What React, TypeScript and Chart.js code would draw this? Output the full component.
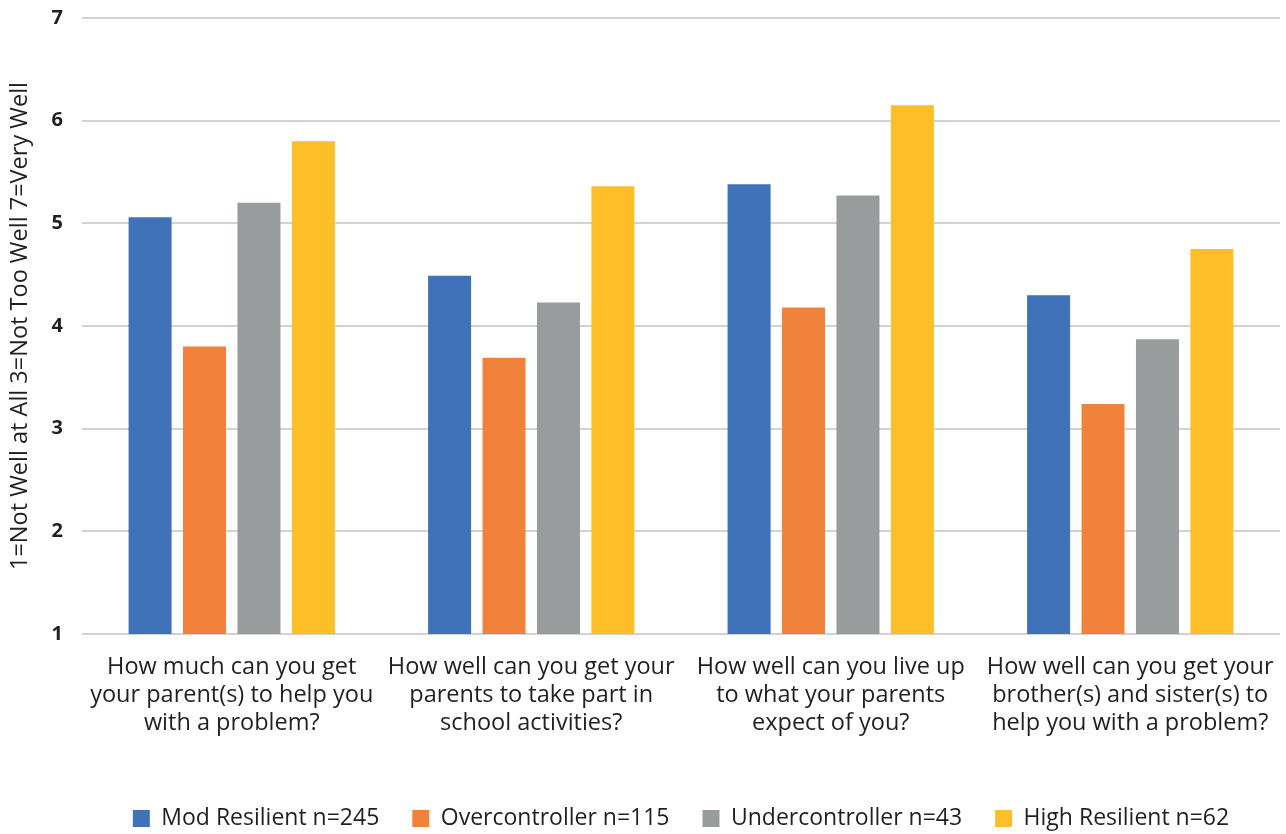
import React, { useEffect, useRef } from "react";
import { Chart, registerables } from "chart.js";

Chart.register(...registerables);

const categories: string[][] = [
  ["How much can you get", "your parent(s) to help you", "with a problem?"],
  ["How well can you get your", "parents to take part in", "school activities?"],
  ["How well can you live up", "to what your parents", "expect of you?"],
  ["How well can you get your", "brother(s) and sister(s) to", "help you with a problem?"],
];

const modResilient = [5.06, 4.49, 5.38, 4.3];
const overcontroller = [3.8, 3.69, 4.18, 3.24];
const undercontroller = [5.2, 4.23, 5.27, 3.87];
const highResilient = [5.8, 5.36, 6.15, 4.75];

const seriesLabels = [
  "Mod Resilient n=245",
  "Overcontroller n=115",
  "Undercontroller n=43",
  "High Resilient n=62",
];
const seriesColors = ["#3f72b8", "#f0823c", "#999c9c", "#fdbe28"];

const yTicks = [1, 2, 3, 4, 5, 6, 7];
const yTitle = "1=Not Well at All 3=Not Too Well 7=Very Well";

const FONT = "'Open Sans', 'DejaVu Sans', sans-serif";
const TEXT = "#231f20";
const CLEAR = "rgba(0,0,0,0)";

export default function App() {
  const canvasRef = useRef<HTMLCanvasElement | null>(null);

  useEffect(() => {
    const canvas = canvasRef.current;
    if (!canvas) return;
    const values = [modResilient, overcontroller, undercontroller, highResilient];
    const chart = new Chart(canvas, {
      type: "bar",
      data: {
        labels: categories,
        datasets: values.map((data, i) => ({
          label: seriesLabels[i],
          data,
          backgroundColor: seriesColors[i],
          borderWidth: 0,
          categoryPercentage: 0.727,
          barPercentage: 0.79,
        })),
      },
      options: {
        animation: false,
        responsive: false,
        maintainAspectRatio: false,
        layout: { padding: { left: 0, right: 6, top: 18, bottom: -6 } },
        plugins: {
          tooltip: { enabled: false },
          legend: {
            position: "bottom",
            fullSize: false,
            labels: {
              boxWidth: 17,
              boxHeight: 17,
              padding: 33,
              color: TEXT,
              font: { family: FONT, size: 23 },
            },
          },
        },
        scales: {
          x: {
            // category gridlines hidden; tick marks kept only as transparent spacing above the labels
            grid: {
              color: CLEAR,
              drawOnChartArea: false,
              drawTicks: true,
              tickLength: 19,
              tickColor: CLEAR,
            },
            border: { display: false },
            ticks: {
              color: TEXT,
              padding: 0,
              maxRotation: 0,
              autoSkip: false,
              font: { family: FONT, size: 23.5, lineHeight: "28px" },
            },
            afterFit: (scale: any) => {
              scale.height = 140;
            },
          },
          y: {
            min: 1,
            max: 7,
            afterBuildTicks: (scale: any) => {
              scale.ticks = yTicks.map((v) => ({ value: v }));
            },
            grid: {
              color: "#d2d2d2",
              lineWidth: 2,
              drawTicks: true,
              tickLength: 19,
              tickColor: CLEAR,
            },
            border: { display: false },
            ticks: {
              color: TEXT,
              padding: 0,
              font: { family: FONT, size: 20, weight: "bold" },
            },
            title: {
              display: true,
              text: yTitle,
              color: TEXT,
              padding: { top: 6, bottom: 0 },
              font: { family: FONT, size: 23.5 },
            },
            afterFit: (scale: any) => {
              scale.width = 82;
            },
          },
        },
      },
    });
    return () => chart.destroy();
  }, []);

  return (
    <div style={{ position: "fixed", left: 0, top: 0, width: 1286, height: 834, background: "#fff" }}>
      <canvas ref={canvasRef} width={1286} height={834} style={{ display: "block" }} />
    </div>
  );
}
